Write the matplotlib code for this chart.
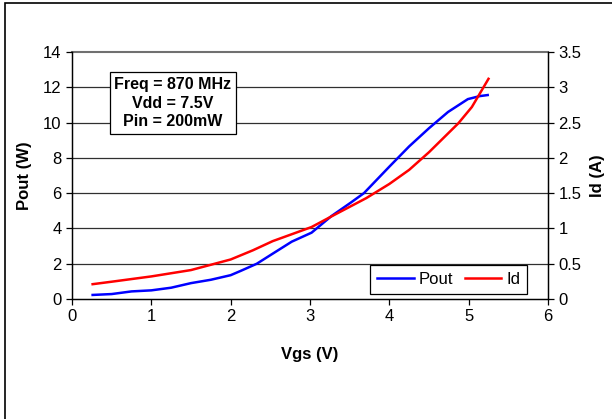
import numpy as np
import matplotlib.pyplot as plt
from matplotlib.patches import Rectangle

plt.rcParams['font.family'] = ['Liberation Sans', 'DejaVu Sans']

# Vgs (V) for Pout
vgs_pout = [0.26, 0.5, 0.75, 1.0, 1.25, 1.5, 1.75, 2.0, 2.13, 2.33, 2.53, 2.77, 3.02,
            3.27, 3.51, 3.68, 4.0, 4.25, 4.5, 4.74, 4.99, 5.14, 5.24]
pout = [0.23, 0.28, 0.43, 0.49, 0.64, 0.9, 1.09, 1.35, 1.6, 2.0, 2.57, 3.25, 3.76,
        4.7, 5.45, 6.0, 7.5, 8.65, 9.68, 10.6, 11.33, 11.5, 11.56]

# Vgs (V) for Id
vgs_id = [0.26, 0.5, 1.0, 1.5, 2.0, 2.28, 2.53, 2.8, 3.02, 3.27, 3.71, 4.0, 4.25, 4.5,
          4.87, 5.04, 5.25]
id_a = [0.21, 0.245, 0.32, 0.41, 0.56, 0.69, 0.82, 0.93, 1.02, 1.17, 1.43, 1.63, 1.83, 2.08,
        2.49, 2.72, 3.12]

fig = plt.figure(figsize=(6.12, 4.19), dpi=100)
# outer frame of the chart area
fig.patches.append(Rectangle((5 / 612, -0.1), 1.1, 1.1 - 3 / 419,
                             transform=fig.transFigure, fill=False,
                             edgecolor='black', linewidth=1.2))

ax = fig.add_axes([72 / 612, 1 - 299 / 419, 476 / 612, 247 / 419])
ax2 = ax.twinx()

ax.set_xlim(0, 6)
ax.set_ylim(0, 14)
ax2.set_ylim(0, 3.5)
ax.set_xticks(range(0, 7))
ax.set_yticks(range(0, 15, 2))
ax2.set_yticks(np.arange(0, 3.6, 0.5))
ax2.set_yticklabels(['0', '0.5', '1', '1.5', '2', '2.5', '3', '3.5'])

for y in range(2, 14, 2):
    ax.axhline(y, color='#303030', linewidth=0.9, zorder=0)
ax.axhline(14, color='#707070', linewidth=1.5, zorder=0, clip_on=False)

for a in (ax, ax2):
    a.spines['top'].set_visible(False)
    a.tick_params(direction='out', length=4, width=0.9, labelsize=12, colors='black')
    for s in a.spines.values():
        s.set_linewidth(0.9)

l1, = ax.plot(vgs_pout, pout, color='#0000ff', linewidth=1.8, label='Pout')
l2, = ax2.plot(vgs_id, id_a, color='#ff0000', linewidth=1.8, label='Id')

ax.set_xlabel('Vgs (V)', fontsize=12, fontweight='bold', labelpad=16)
ax.set_ylabel('Pout (W)', fontsize=12, fontweight='bold', labelpad=8)
ax2.set_ylabel('Id (A)', fontsize=12, fontweight='bold', labelpad=6)

ax.text(0.212, 0.793, 'Freq = 870 MHz\nVdd = 7.5V\nPin = 200mW', transform=ax.transAxes,
        ha='center', va='center', fontsize=11.5, fontweight='bold', linespacing=1.3,
        bbox=dict(boxstyle='square,pad=0.3', facecolor='white', edgecolor='black',
                  linewidth=0.9), zorder=5)

leg = ax2.legend([l1, l2], ['Pout', 'Id'], ncol=2, loc='lower right',
                 bbox_to_anchor=(0.956, 0.022), borderaxespad=0, fontsize=12,
                 fancybox=False, framealpha=1, edgecolor='black', handlelength=2.2,
                 columnspacing=0.7, handletextpad=0.3, borderpad=0.4)
leg.get_frame().set_linewidth(0.9)

fig.savefig('out.png', dpi=100)
